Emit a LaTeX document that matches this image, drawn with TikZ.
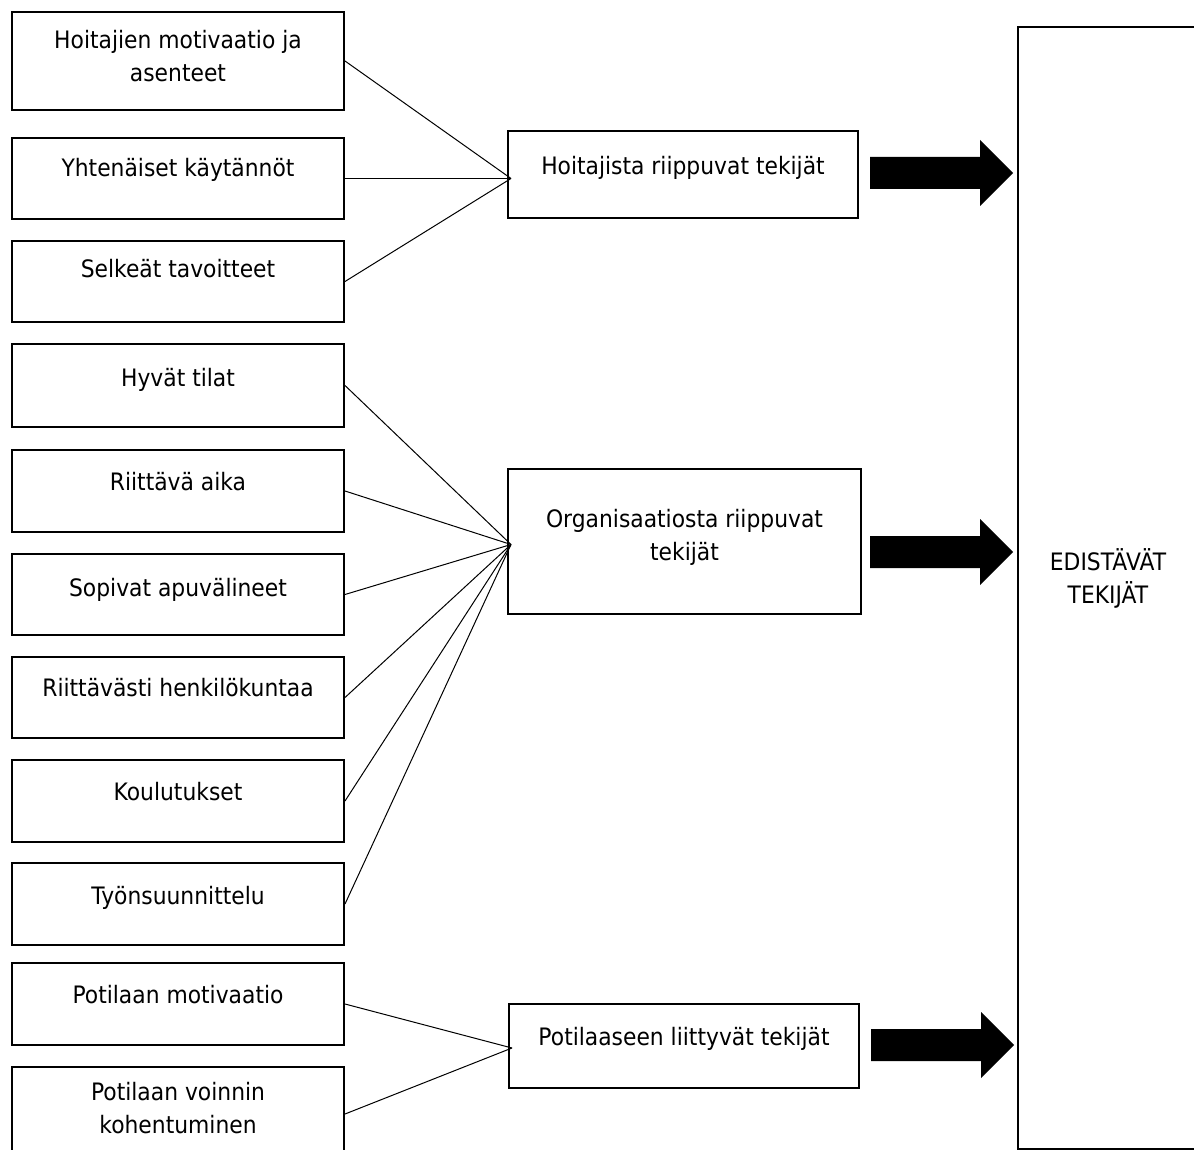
\documentclass[tikz,border=0pt]{standalone}
\usepackage{fontspec}
\setmainfont{DejaVu Sans}[FakeStretch=0.91]
\usetikzlibrary{calc}

% text block of a framed box: width, height, first baseline below top, text
\newcommand\boxtext[4]{\parbox[t][#2pt][t]{#1pt}{\centering\rule{0pt}{#3pt}#4}}

\tikzset{
  frame/.style={draw, line width=2pt, inner sep=0pt, anchor=north west,
    font=\fontsize{24}{33}\selectfont},
  link/.style={line width=1pt},
  pics/fatarrow/.style={code={
    \fill (0,-16) -- (110,-16) -- (110,-33) -- (143,0) -- (110,33) -- (110,16) -- (0,16) -- cycle;}},
}

\begin{document}
\begin{tikzpicture}[x=1pt, y=-1pt]
\useasboundingbox (0,0) rectangle (1194,1150);
\clip (0,0) rectangle (1194,1150);

% factors on the left
\node[frame] (b1)  at (11,11)   {\boxtext{332}{98}{37}{Hoitajien motivaatio ja\\asenteet}};
\node[frame] (b2)  at (11,137)  {\boxtext{332}{81}{39}{Yhtenäiset käytännöt}};
\node[frame] (b3)  at (11,240)  {\boxtext{332}{81}{37}{Selkeät tavoitteet}};
\node[frame] (b4)  at (11,343)  {\boxtext{332}{83}{42}{Hyvät tilat}};
\node[frame] (b5)  at (11,449)  {\boxtext{332}{82}{40}{Riittävä aika}};
\node[frame] (b6)  at (11,553)  {\boxtext{332}{81}{42}{Sopivat apuvälineet}};
\node[frame] (b7)  at (11,656)  {\boxtext{332}{81}{39}{Riittävästi henkilökuntaa}};
\node[frame] (b8)  at (11,759)  {\boxtext{332}{82}{40}{Koulutukset}};
\node[frame] (b9)  at (11,862)  {\boxtext{332}{82}{41}{Työnsuunnittelu}};
\node[frame] (b10) at (11,962)  {\boxtext{332}{82}{40}{Potilaan motivaatio}};
\node[frame] (b11) at (11,1066) {\boxtext{332}{94}{33}{Potilaan voinnin\\kohentuminen}};

% groups in the middle
\node[frame] (m1) at (507,130)  {\boxtext{350}{87}{44}{Hoitajista riippuvat tekijät}};
\node[frame] (m2) at (507,468)  {\boxtext{353}{145}{58}{Organisaatiosta riippuvat\\tekijät}};
\node[frame] (m3) at (508,1003) {\boxtext{350}{84}{41}{Potilaaseen liittyvät tekijät}};

% outcome on the right
\node[frame] (r) at (1017,26) {\boxtext{180}{1122}{543}{EDISTÄVÄT\\TEKIJÄT}};

% meeting points of the links
\coordinate (h1) at ($(m1.west)+(4,4)$);
\coordinate (h2) at ($(m2.west)+(4,3)$);
\coordinate (h3) at ($(m3.west)+(4,2)$);

\foreach \b in {b1,b2,b3} \draw[link] (\b.east) -- (h1);
\foreach \b in {b4,b5,b6,b7,b8,b9} \draw[link] (\b.east) -- (h2);
\foreach \b in {b10,b11} \draw[link] (\b.east) -- (h3);

% block arrows into the outcome box
\pic at (870,173) {fatarrow};
\pic at (870,552) {fatarrow};
\pic at (871,1045) {fatarrow};
\end{tikzpicture}
\end{document}
